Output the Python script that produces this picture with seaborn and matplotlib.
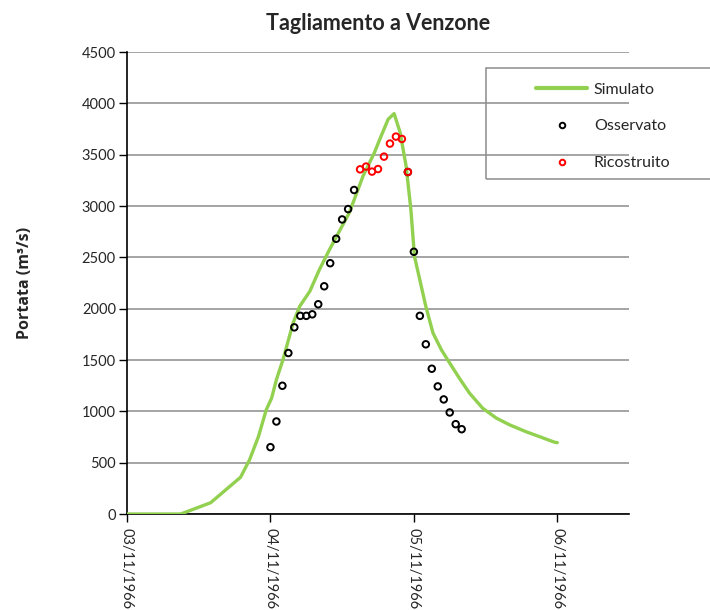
import pandas as pd
import seaborn as sns
import matplotlib.pyplot as plt
from matplotlib.lines import Line2D
from matplotlib.patches import Rectangle

# hours after 03/11/1966 00:00
sim_hours = [0, 9, 14, 19, 20.5, 22, 23.3, 24.2, 25, 26.1, 27.8, 28.9, 30.6, 32.2,
             33.9, 37.2, 39.5, 41.4, 42.3, 43.7, 44.7, 45.7, 46.7, 47.5, 48.1, 50,
             51.2, 52.6, 54, 55.6, 57.3, 59.5, 61.8, 64, 66.7, 69, 71.5, 72]
sim_q = [0, 0, 110, 358, 527, 755, 1015, 1129, 1308, 1503, 1861, 2023, 2170, 2381,
         2577, 2935, 3292, 3520, 3650, 3845, 3900, 3716, 3390, 2967, 2511, 2023,
         1763, 1600, 1470, 1324, 1178, 1031, 934, 869, 803, 754, 700, 695]

obs_hours = [24, 25, 26, 27, 28, 29, 30, 31, 32, 33, 34, 35, 36, 37, 38,
             47, 48, 49, 50, 51, 52, 53, 54, 55, 56]
obs_q = [651, 901, 1249, 1568, 1818, 1930, 1930, 1945, 2043, 2218, 2443, 2681, 2869, 2970, 3156,
         3331, 2554, 1930, 1653, 1415, 1243, 1116, 989, 875, 826]

ric_hours = [39, 40, 41, 42, 43, 44, 45, 46, 47]
ric_q = [3357, 3384, 3335, 3360, 3481, 3608, 3676, 3653, 3331]

date_ticks = ["03/11/1966", "04/11/1966", "05/11/1966", "06/11/1966"]
y_ticks = [0, 500, 1000, 1500, 2000, 2500, 3000, 3500, 4000, 4500]

start = pd.Timestamp("1966-11-03")
sim = pd.DataFrame({"t": start + pd.to_timedelta(sim_hours, unit="h"), "q": sim_q})
obs = pd.DataFrame({"t": start + pd.to_timedelta(obs_hours, unit="h"), "q": obs_q})
ric = pd.DataFrame({"t": start + pd.to_timedelta(ric_hours, unit="h"), "q": ric_q})

sns.set_style("ticks")
plt.rcParams["font.family"] = ["Lato", "DejaVu Sans"]

green = "#92D050"
fig = plt.figure(figsize=(7.1, 6.1), dpi=100)
ax = fig.add_axes([127 / 710, 1 - 514 / 610, 502 / 710, 462 / 610])

sns.lineplot(sim, x="t", y="q", color=green, lw=2.4, ax=ax, zorder=3)
sns.scatterplot(obs, x="t", y="q", marker="o", s=22, facecolor="none",
                edgecolor="black", linewidth=1.4, ax=ax, zorder=4)
sns.scatterplot(ric, x="t", y="q", marker="o", s=22, facecolor="none",
                edgecolor="red", linewidth=1.4, ax=ax, zorder=5)

ticks = pd.to_datetime(date_ticks, format="%d/%m/%Y")
ax.set_xlim(start, start + pd.Timedelta(hours=84))
ax.set_ylim(0, 4500)
ax.set_xticks(ticks)
ax.set_xticklabels(date_ticks, rotation=-90, fontsize=10.5)
ax.set_yticks(y_ticks)
ax.tick_params(axis="y", labelsize=10.5, length=6, width=1, color="black", pad=2)
ax.tick_params(axis="x", length=6, width=1, color="black", pad=4)
ax.grid(axis="y", color="#8c8c8c", lw=1.1)
ax.set_axisbelow(True)
ax.spines[["top", "right"]].set_visible(False)
ax.spines[["left", "bottom"]].set_color("black")
ax.spines[["left", "bottom"]].set_linewidth(1.2)
ax.set_xlabel("")
ax.set_ylabel("Portata (m³/s)", fontsize=11.5, fontweight="bold", labelpad=35,
              family="Open Sans")
ax.set_title("Tagliamento a Venzone", fontsize=15.5, fontweight="bold", pad=16)

fig.patches.append(Rectangle((486 / 710, 1 - 179 / 610), 240 / 710, 111 / 610,
                             transform=fig.transFigure, fill=False,
                             edgecolor="#8c8c8c", lw=1.1))
handles = [
    Line2D([], [], color=green, lw=3),
    Line2D([], [], ls="", marker="o", ms=4, mfc="none", mec="black", mew=1.4),
    Line2D([], [], ls="", marker="o", ms=4, mfc="none", mec="red", mew=1.4),
]
fig.legend(handles, ["Simulato", "Osservato", "Ricostruito"],
           loc="upper left", bbox_to_anchor=(522 / 710, 1 - 68 / 610),
           frameon=False, fontsize=11.5, handlelength=3.2, handletextpad=0.4,
           labelspacing=1.42)

fig.savefig("out.png", dpi=100)
